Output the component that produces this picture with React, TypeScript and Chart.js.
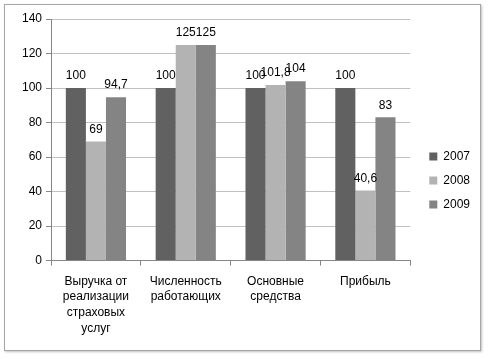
import React, { useEffect, useRef } from "react";
import { Chart, registerables } from "chart.js";

Chart.register(...registerables);

const categories: string[][] = [
  ["Выручка от", "реализации", "страховых", "услуг"],
  ["Численность", "работающих"],
  ["Основные", "средства"],
  ["Прибыль"],
];
const series2007: number[] = [100, 100, 100, 100];
const series2008: number[] = [69, 125, 101.8, 40.6];
const series2009: number[] = [94.7, 125, 104, 83];
const seriesNames: string[] = ["2007", "2008", "2009"];
const seriesColors: string[] = ["#616161", "#b3b3b3", "#848484"];
const yTicks: number[] = [0, 20, 40, 60, 80, 100, 120, 140];

const FONT = "'Liberation Sans', Arial, sans-serif";

const valueLabels = {
  id: "valueLabels",
  afterDatasetsDraw(chart: any) {
    const ctx = chart.ctx;
    ctx.save();
    ctx.font = `12px ${FONT}`;
    ctx.fillStyle = "#000";
    ctx.textAlign = "center";
    ctx.textBaseline = "bottom";
    chart.data.datasets.forEach((ds: any, i: number) => {
      const meta = chart.getDatasetMeta(i);
      meta.data.forEach((el: any, j: number) => {
        const v = ds.data[j];
        const txt = String(v).replace(".", ",");
        ctx.fillText(txt, el.x, el.y - 6);
      });
    });
    ctx.restore();
  },
};

const hiddenScale = (position: string, size: number) => ({
  type: "linear",
  position,
  display: true,
  grid: { display: false, drawTicks: false },
  border: { display: false },
  ticks: { display: false },
  afterFit: (s: any) => {
    if (position === "top") s.height = size;
    else s.width = size;
  },
});

export default function App() {
  const ref = useRef<HTMLCanvasElement | null>(null);
  useEffect(() => {
    document.body.style.margin = "0";
    const chart = new Chart(ref.current as HTMLCanvasElement, {
      type: "bar",
      data: {
        labels: categories,
        datasets: [series2007, series2008, series2009].map((d, i) => ({
          label: seriesNames[i],
          data: d,
          backgroundColor: seriesColors[i],
          borderWidth: 0,
          categoryPercentage: 0.67,
          barPercentage: 1,
        })),
      },
      options: {
        animation: false,
        responsive: false,
        maintainAspectRatio: false,
        layout: { padding: { left: 18, right: 8, top: 17, bottom: 15 } },
        plugins: {
          tooltip: { enabled: false },
          legend: {
            position: "right",
            labels: {
              boxWidth: 8,
              boxHeight: 8,
              padding: 12,
              color: "#000",
              font: { family: FONT, size: 12 },
            },
          },
        },
        scales: {
          x: {
            grid: {
              offset: true,
              drawOnChartArea: false,
              drawTicks: true,
              tickLength: 5,
              color: "#868686",
            },
            border: { color: "#868686" },
            ticks: {
              color: "#000",
              font: { family: FONT, size: 12, lineHeight: 1.3 },
              padding: 8,
              maxRotation: 0,
              autoSkip: false,
            },
          },
          y: {
            min: 0,
            max: 140,
            afterBuildTicks: (axis: any) => {
              axis.ticks = yTicks.map((v) => ({ value: v }));
            },
            grid: {
              color: "#c0c0c0",
              tickLength: 5,
              tickColor: "#868686",
            },
            border: { color: "#868686" },
            ticks: {
              color: "#000",
              font: { family: FONT, size: 12 },
              padding: 4,
            },
          },
          spacerRight: hiddenScale("right", 7) as any,
          spacerTop: hiddenScale("top", 2) as any,
        },
      },
      plugins: [valueLabels],
    });
    return () => chart.destroy();
  }, []);
  return (
    <div style={{ position: "fixed", left: 0, top: 0, width: 488, height: 359, background: "#fff" }}>
      <div
        style={{
          position: "absolute",
          left: 4,
          top: 4,
          width: 475,
          height: 345,
          border: "1px solid #a6a6a6",
          boxShadow: "1px 1px 2px rgba(0,0,0,0.25)",
        }}
      />
      <canvas ref={ref} width={488} height={359} style={{ position: "absolute", left: 0, top: 0 }} />
    </div>
  );
}
